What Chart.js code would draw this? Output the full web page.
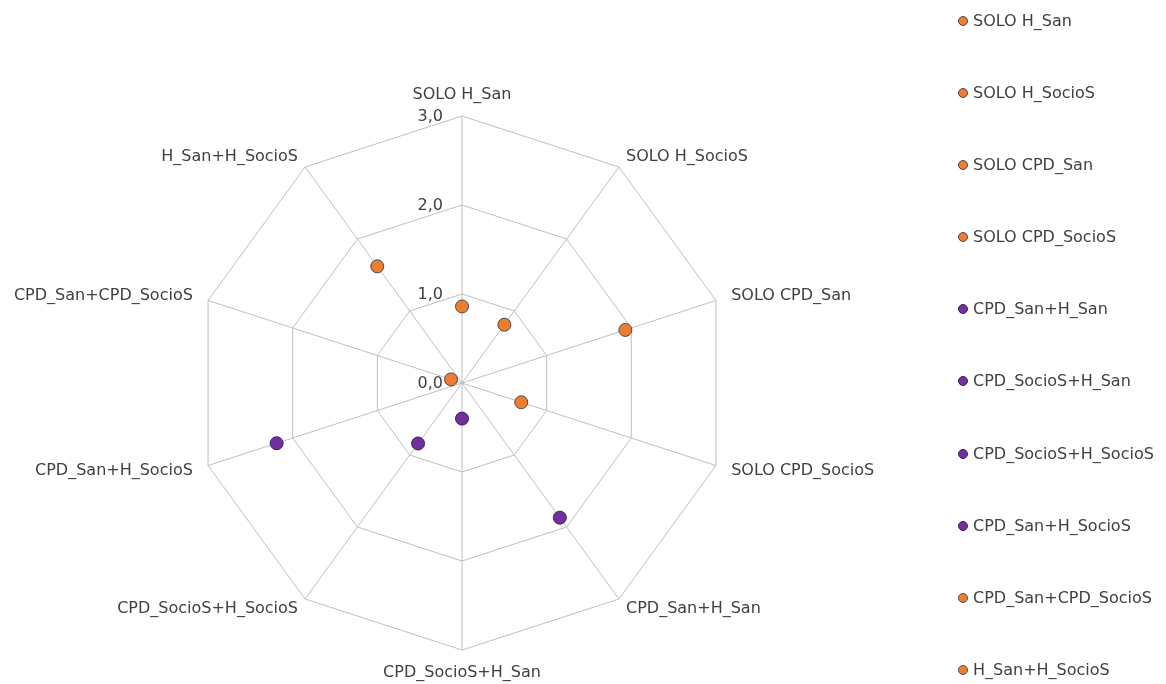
<!DOCTYPE html>
<html>
<head>
<meta charset="utf-8">
<script src="https://cdn.jsdelivr.net/npm/chart.js@4/dist/chart.umd.min.js"></script>
<style>
  html, body { margin: 0; padding: 0; background: #ffffff; }
  #wrap { position: relative; width: 1166px; height: 684px; overflow: hidden; }
  #c { position: absolute; left: 0; top: 0; }
  #legend { position: absolute; left: 958px; top: 11px; font-family: "DejaVu Sans", sans-serif; font-size: 16px; color: #404040; }
  #legend .item { height: 20px; line-height: 20px; margin-bottom: 52.1px; display: flex; align-items: center; white-space: nowrap; }
  #legend .mk { width: 8px; height: 8px; border-radius: 50%; border: 1px solid #404040; margin-right: 5px; flex: none; }
</style>
</head>
<body>
<div id="wrap">
  <canvas id="c" width="1166" height="684"></canvas>
  <div id="legend"></div>
</div>
<script>
// ---- data ----
const categories = [
  'SOLO H_San', 'SOLO H_SocioS', 'SOLO CPD_San', 'SOLO CPD_SocioS',
  'CPD_San+H_San', 'CPD_SocioS+H_San', 'CPD_SocioS+H_SocioS',
  'CPD_San+H_SocioS', 'CPD_San+CPD_SocioS', 'H_San+H_SocioS'
];
const seriesNames = [
  'SOLO H_San', 'SOLO H_SocioS', 'SOLO CPD_San', 'SOLO CPD_SocioS',
  'CPD_San+H_San', 'CPD_SocioS+H_San', 'CPD_SocioS+H_SocioS',
  'CPD_San+H_SocioS', 'CPD_San+CPD_SocioS', 'H_San+H_SocioS'
];
const values = [0.86, 0.81, 1.93, 0.70, 1.87, 0.40, 0.84, 2.19, 0.13, 1.62];
const tickValues = [0, 1, 2, 3];

// ---- styles ----
const ORANGE = '#ED7D31', PURPLE = '#7030A0';
const seriesColors = [ORANGE, ORANGE, ORANGE, ORANGE, PURPLE, PURPLE, PURPLE, PURPLE, ORANGE, ORANGE];
const seriesBorders = seriesColors.map(c => c === PURPLE ? '#3d1a5c' : '#4a4a4a');
const TEXT = '#404040';
const FONT = '16px "DejaVu Sans", sans-serif';

const datasets = seriesNames.map((name, i) => ({
  label: name,
  data: categories.map((c, j) => (j === i ? values[i] : null)),
  showLine: false,
  borderWidth: 0,
  backgroundColor: seriesColors[i],
  borderColor: seriesColors[i],
  pointBackgroundColor: seriesColors[i],
  pointBorderColor: seriesBorders[i],
  pointBorderWidth: 1,
  pointRadius: 6.5,
  pointHoverRadius: 6.5
}));

const labelPlugin = {
  id: 'customLabels',
  beforeDatasetsDraw(chart) {
    const s = chart.scales.r;
    const ctx = chart.ctx;
    ctx.save();
    ctx.font = FONT;
    ctx.fillStyle = TEXT;
    ctx.textBaseline = 'middle';
    // tick labels, right-aligned left of the vertical axis
    ctx.textAlign = 'right';
    s.ticks.forEach(t => {
      const d = s.getDistanceFromCenterForValue(t.value);
      ctx.fillText(t.label, s.xCenter - 19, s.yCenter - d + 1);
    });
    // point labels
    chart.data.labels.forEach((lab, i) => {
      const a = s.getIndexAngle(i);
      const deg = Math.round(a * 180 / Math.PI) % 360;
      let pad;
      if (deg === 0) pad = 21;
      else if (deg === 180) pad = 23;
      else pad = Math.abs(Math.sin(a)) > 0.9 ? 16 : 12;
      const p = s.getPointPosition(i, s.drawingArea + pad);
      ctx.textAlign = (deg === 0 || deg === 180) ? 'center' : (deg < 180 ? 'left' : 'right');
      ctx.fillText(lab, p.x, p.y);
    });
    ctx.restore();
  }
};

const chart = new Chart(document.getElementById('c'), {
  type: 'radar',
  data: { labels: categories, datasets },
  options: {
    responsive: false,
    animation: false,
    devicePixelRatio: 1,
    layout: { padding: { left: 195, right: 437, top: 116, bottom: 34 } },
    plugins: { legend: { display: false }, tooltip: { enabled: false } },
    elements: { line: { borderWidth: 0 } },
    scales: {
      r: {
        min: tickValues[0],
        max: tickValues[tickValues.length - 1],
        beginAtZero: true,
        ticks: {
          display: false,
          stepSize: 1,
          callback: v => v.toFixed(1).replace('.', ',')
        },
        pointLabels: { display: false },
        grid: { color: '#BFBFBF', lineWidth: 1, circular: false },
        angleLines: { color: '#BFBFBF', lineWidth: 1 }
      }
    }
  },
  plugins: [labelPlugin]
});

// HTML legend built from the chart's datasets
const legendEl = document.getElementById('legend');
chart.data.datasets.forEach(ds => {
  const item = document.createElement('div');
  item.className = 'item';
  const mk = document.createElement('span');
  mk.className = 'mk';
  mk.style.background = ds.pointBackgroundColor;
  mk.style.borderColor = ds.pointBorderColor;
  const tx = document.createElement('span');
  tx.textContent = ds.label;
  item.appendChild(mk);
  item.appendChild(tx);
  legendEl.appendChild(item);
});
</script>
</body>
</html>
